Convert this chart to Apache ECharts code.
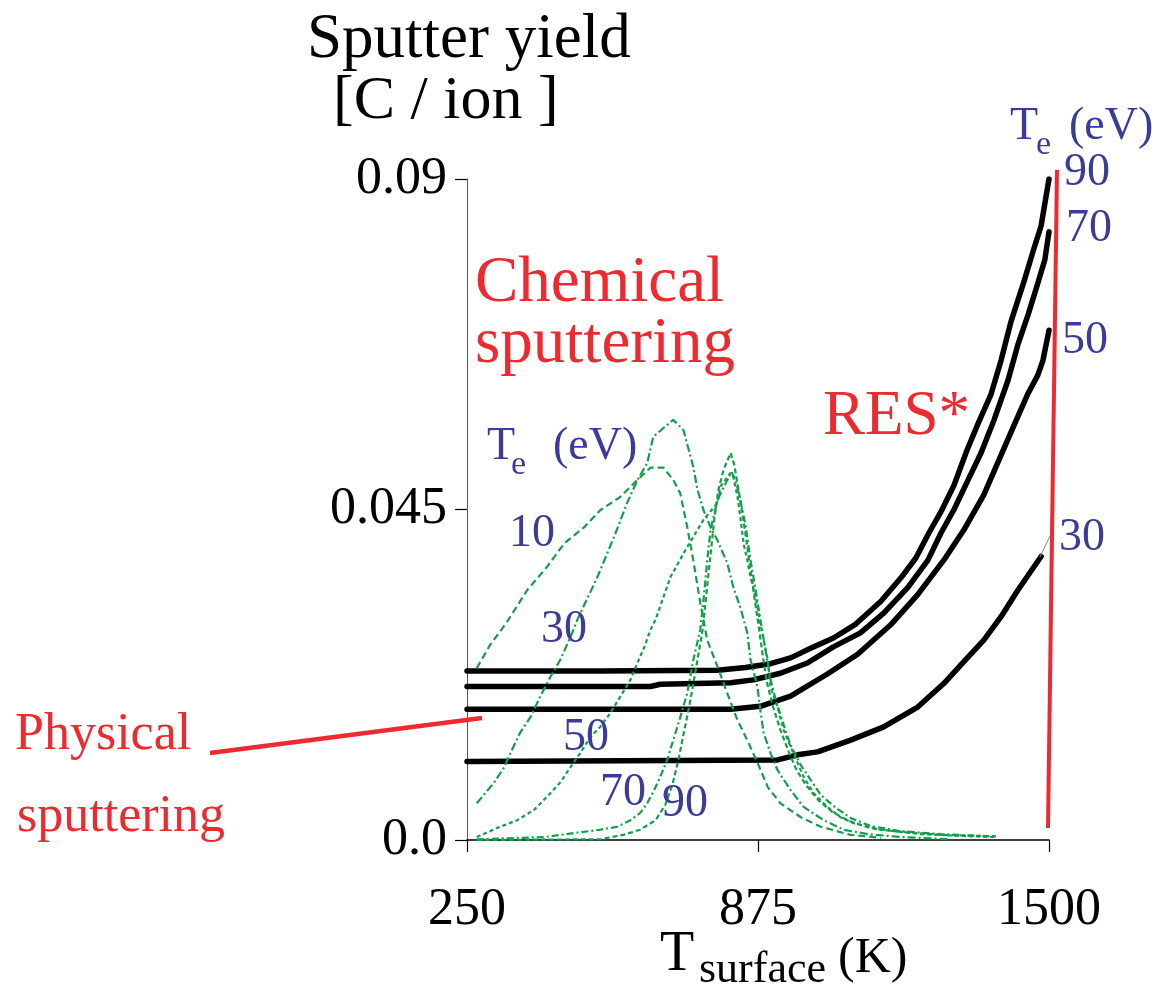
<!DOCTYPE html>
<html>
<head>
<meta charset="utf-8">
<script src="https://cdn.jsdelivr.net/npm/echarts@6/dist/echarts.min.js"></script>
<style>
  html, body { margin: 0; padding: 0; background: #fff; }
  #chart { width: 1162px; height: 989px; }
</style>
</head>
<body>
<div id="chart"></div>
<script>
// Surface temperature ticks (K) and yield ticks (C/ion)
const xTicks = [250, 875, 1500];
const yTicks = [0, 0.045, 0.09];

// Physical sputtering + radiation-enhanced sublimation (RES), by Te (eV)
const res90 = [[250,0.0230],[536,0.0230],[788,0.0231],[848,0.0235],[902,0.0240],[945,0.0248],[988,0.0261],[1037,0.0275],[1085,0.0294],[1139,0.0325],[1182,0.0357],[1214,0.0384],[1242,0.0418],[1268,0.0447],[1296,0.0483],[1324,0.0531],[1349,0.0569],[1375,0.0606],[1397,0.0653],[1418,0.0705],[1446,0.0760],[1468,0.0806],[1483,0.0836],[1500,0.0900]];
const res70 = [[250,0.0209],[644,0.0209],[665,0.0212],[816,0.0214],[865,0.0218],[923,0.0227],[981,0.0241],[1037,0.0263],[1095,0.0282],[1145,0.0309],[1197,0.0344],[1240,0.0381],[1268,0.0418],[1296,0.0450],[1326,0.0490],[1354,0.0527],[1382,0.0572],[1412,0.0626],[1433,0.0674],[1455,0.0715],[1476,0.0758],[1491,0.0790],[1500,0.0828]];
const res50 = [[250,0.0178],[816,0.0178],[880,0.0182],[945,0.0196],[1024,0.0226],[1089,0.0253],[1160,0.0293],[1218,0.0334],[1274,0.0381],[1317,0.0422],[1360,0.0470],[1397,0.0524],[1425,0.0565],[1455,0.0608],[1476,0.0633],[1487,0.0653],[1500,0.0694]];
const res30 = [[250,0.0107],[917,0.0109],[960,0.0116],[1003,0.0120],[1074,0.0136],[1145,0.0154],[1218,0.0181],[1274,0.0213],[1326,0.0249],[1360,0.0272],[1397,0.0304],[1433,0.0340],[1483,0.0386]];

// Chemical sputtering, by Te (eV)
const chem10 = [[271,0.0234],[300,0.0266],[336,0.0297],[379,0.0340],[422,0.0372],[459,0.0404],[502,0.0426],[536,0.0449],[579,0.0467],[622,0.0494],[644,0.0507],[672,0.0507],[693,0.0490],[708,0.0472],[723,0.0426],[736,0.0381],[751,0.0323],[766,0.0272],[788,0.0236],[809,0.0200],[831,0.0163],[852,0.0136],[874,0.0105],[896,0.0072],[923,0.0050],[967,0.0031],[1010,0.0018],[1074,0.0007],[1139,0.0003]];
const chem30 = [[271,0.0050],[308,0.0078],[330,0.0099],[343,0.0118],[364,0.0146],[386,0.0167],[407,0.0195],[429,0.0222],[450,0.0245],[472,0.0276],[487,0.0300],[530,0.0358],[566,0.0413],[594,0.0459],[616,0.0490],[637,0.0513],[650,0.0549],[672,0.0561],[693,0.0572],[715,0.0558],[736,0.0508],[745,0.0477],[758,0.0449],[773,0.0426],[788,0.0408],[809,0.0377],[822,0.0344],[837,0.0317],[852,0.0282],[859,0.0245],[874,0.0208],[880,0.0177],[887,0.0146],[902,0.0118],[917,0.0095],[945,0.0068],[973,0.0045],[1016,0.0027],[1059,0.0014],[1111,0.0008],[1182,0.0004],[1289,0.0001]];
const chem50 = [[271,0.0004],[321,0.0018],[358,0.0027],[394,0.0041],[422,0.0059],[450,0.0078],[472,0.0099],[493,0.0118],[515,0.0140],[536,0.0154],[558,0.0173],[579,0.0195],[601,0.0218],[616,0.0241],[631,0.0263],[644,0.0286],[655,0.0300],[687,0.0358],[723,0.0399],[758,0.0436],[788,0.0459],[794,0.0481],[816,0.0500],[822,0.0494],[831,0.0467],[837,0.0440],[844,0.0404],[852,0.0381],[859,0.0358],[870,0.0331],[880,0.0295],[896,0.0245],[902,0.0208],[917,0.0181],[930,0.0150],[945,0.0127],[960,0.0105],[973,0.0086],[994,0.0064],[1024,0.0045],[1052,0.0031],[1080,0.0023],[1139,0.0014],[1225,0.0008],[1332,0.0005],[1386,0.0004]];
const chem70 = [[271,0.0001],[416,0.0004],[487,0.0010],[536,0.0014],[573,0.0018],[601,0.0027],[622,0.0037],[637,0.0050],[652,0.0068],[665,0.0086],[680,0.0109],[693,0.0136],[708,0.0167],[723,0.0200],[736,0.0245],[751,0.0286],[758,0.0327],[766,0.0381],[773,0.0422],[788,0.0463],[809,0.0490],[818,0.0501],[827,0.0490],[837,0.0463],[848,0.0429],[859,0.0381],[870,0.0340],[880,0.0300],[891,0.0259],[902,0.0218],[913,0.0191],[930,0.0157],[945,0.0129],[967,0.0102],[988,0.0082],[1010,0.0061],[1042,0.0044],[1074,0.0030],[1117,0.0019],[1182,0.0012],[1268,0.0008],[1375,0.0005]];
const chem90 = [[271,0.0000],[536,0.0001],[586,0.0007],[622,0.0014],[655,0.0027],[676,0.0048],[691,0.0075],[704,0.0109],[717,0.0150],[730,0.0191],[743,0.0238],[756,0.0286],[764,0.0334],[773,0.0388],[781,0.0436],[790,0.0477],[801,0.0504],[816,0.0527],[824,0.0511],[833,0.0477],[842,0.0443],[850,0.0408],[859,0.0368],[868,0.0327],[876,0.0293],[885,0.0252],[893,0.0218],[906,0.0184],[923,0.0150],[941,0.0120],[958,0.0095],[979,0.0074],[1005,0.0054],[1035,0.0038],[1070,0.0026],[1117,0.0016],[1182,0.0011],[1268,0.0007],[1386,0.0005]];

const SERIF = '"Liberation Serif", "Times New Roman", serif';
const RED = '#ec2a30';
const BLUE = '#3b3b98';
const GREEN = '#12a04a';

function txt(text, x, y, size, color) {
  return {
    type: 'text', x: x, y: y, silent: true, z: 100,
    style: { text: text, font: size + 'px ' + SERIF, fill: color, align: 'left', verticalAlign: 'middle' }
  };
}
function seg(x1, y1, x2, y2, color, width) {
  return {
    type: 'line', silent: true, z: 90,
    shape: { x1: x1, y1: y1, x2: x2, y2: y2 },
    style: { stroke: color, lineWidth: width, lineCap: 'butt' }
  };
}

function resLine(name, data) {
  return {
    name: name, type: 'line', data: data, showSymbol: false, symbol: 'none',
    lineStyle: { color: '#000', width: 5.5, cap: 'round', join: 'round' }, z: 2, silent: true
  };
}
function chemLine(name, data, dash) {
  return {
    name: name, type: 'line', data: data, showSymbol: false, symbol: 'none',
    lineStyle: { color: GREEN, width: 2.2, type: dash }, z: 3, silent: true
  };
}

const chart = echarts.init(document.getElementById('chart'), null, { renderer: 'canvas' });

chart.setOption({
  animation: false,
  backgroundColor: '#fff',
  grid: { left: 467, right: 113, top: 179, bottom: 149 },
  xAxis: {
    type: 'value', min: 250, max: 1500,
    axisLine: { show: true, lineStyle: { color: '#000', width: 1.5 } },
    axisTick: { show: true, inside: false, length: 12, customValues: xTicks, lineStyle: { color: '#000', width: 1.2 } },
    axisLabel: {
      customValues: xTicks, margin: 44, color: '#000', fontFamily: SERIF, fontSize: 52,
      formatter: function (v) { return String(v); }
    },
    splitLine: { show: false }
  },
  yAxis: {
    type: 'value', min: 0, max: 0.09, interval: 0.045,
    axisLine: { show: true, lineStyle: { color: '#555', width: 1 } },
    axisTick: { show: true, inside: false, length: 12, lineStyle: { color: '#000', width: 1.2 } },
    axisLabel: {
      margin: 20, color: '#000', fontFamily: SERIF, fontSize: 52,
      formatter: function (v) { return v === 0 ? '0.0' : String(+v.toFixed(3)); }
    },
    splitLine: { show: false }
  },
  series: [
    resLine('RES 90', res90),
    resLine('RES 70', res70),
    resLine('RES 50', res50),
    resLine('RES 30', res30),
    chemLine('Chem 10', chem10, [7, 4]),
    chemLine('Chem 30', chem30, [8, 3, 2, 3]),
    chemLine('Chem 50', chem50, [4, 3]),
    chemLine('Chem 70', chem70, [7, 3, 2, 3]),
    chemLine('Chem 90', chem90, [5, 3])
  ],
  graphic: [
    // axis titles
    txt('Sputter yield', 307, 40, 63, '#000'),
    txt('[C / ion ]', 333, 102, 62, '#000'),
    txt('T', 660, 955, 56, '#000'),
    txt('surface', 699, 970, 44, '#000'),
    txt('(K)', 838, 959, 50, '#000'),

    // process labels
    txt('Chemical', 475, 284, 65, RED),
    txt('sputtering', 475, 345, 65, RED),
    txt('RES*', 823, 417, 63, RED),
    txt('Physical', 15, 735, 52, RED),
    txt('sputtering', 17, 817, 52, RED),
    seg(210, 753, 482, 718, RED, 4.5),
    seg(1057, 170, 1048, 828, RED, 4),

    // Te labels of chemical curves
    txt('T', 487, 447, 46, BLUE),
    txt('e', 511, 465, 34, BLUE),
    txt('(eV)', 553, 447, 46, BLUE),
    txt('10', 509, 534, 46, BLUE),
    txt('30', 541, 630, 46, BLUE),
    txt('50', 563, 738, 46, BLUE),
    txt('70', 600, 793, 46, BLUE),
    txt('90', 662, 804, 46, BLUE),

    // Te labels of RES curves
    txt('T', 1010, 127, 46, BLUE),
    txt('e', 1036, 145, 34, BLUE),
    txt('(eV)', 1069, 127, 46, BLUE),
    txt('90', 1064, 173, 46, BLUE),
    txt('70', 1066, 229, 46, BLUE),
    txt('50', 1062, 341, 46, BLUE),
    txt('30', 1059, 538, 46, BLUE),
    seg(1040, 557, 1050, 536, '#888', 1)
  ]
});
</script>
</body>
</html>
